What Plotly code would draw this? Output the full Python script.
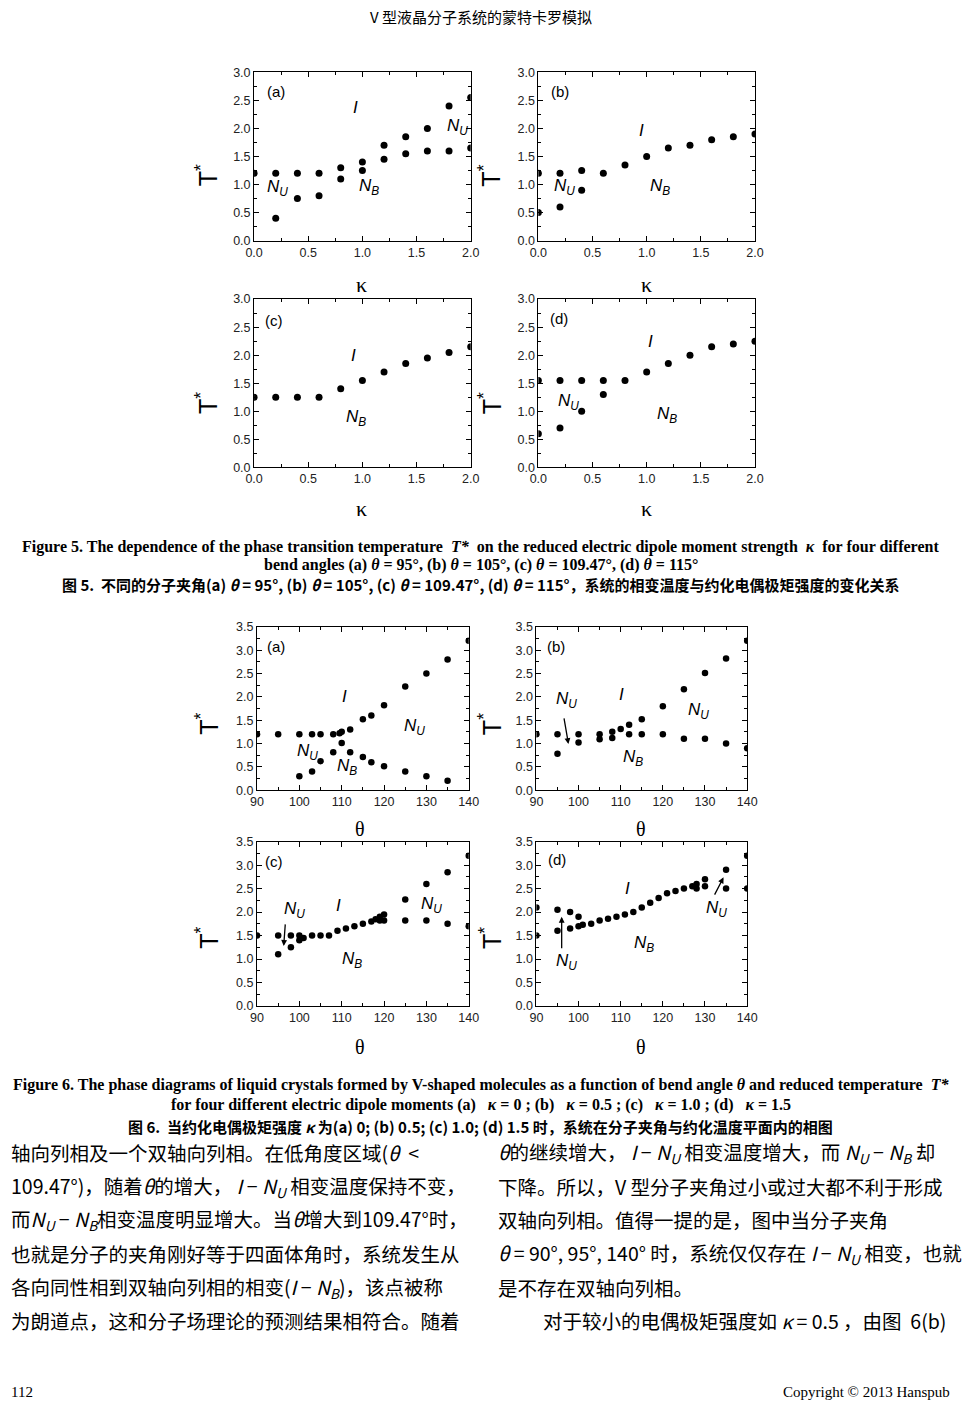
import plotly.graph_objects as go

# ---------------- data: Figure 5 (T* vs kappa) ----------------
kappa = [0.0, 0.2, 0.4, 0.6, 0.8, 1.0, 1.2, 1.4, 1.6, 1.8, 2.0]
f5a_upper = [1.2, 1.2, 1.2, 1.2, 1.3, 1.4, 1.7, 1.85, 2.0, 2.4, 2.55]
f5a_lower_k = [0.2, 0.4, 0.6, 0.8, 1.0, 1.2, 1.4, 1.6, 1.8, 2.0]
f5a_lower = [0.4, 0.75, 0.8, 1.1, 1.25, 1.45, 1.55, 1.6, 1.6, 1.65]
f5b_upper = [1.2, 1.2, 1.25, 1.2, 1.35, 1.5, 1.65, 1.7, 1.8, 1.85, 1.9]
f5b_lower_k = [0.0, 0.2, 0.4]
f5b_lower = [0.5, 0.6, 0.9]
f5c_upper = [1.25, 1.25, 1.25, 1.25, 1.4, 1.55, 1.7, 1.85, 1.95, 2.05, 2.15]
f5d_upper = [1.55, 1.55, 1.55, 1.55, 1.55, 1.7, 1.85, 2.0, 2.15, 2.2, 2.25]
f5d_lower_k = [0.0, 0.2, 0.4, 0.6]
f5d_lower = [0.6, 0.7, 1.0, 1.3]

# ---------------- data: Figure 6 (T* vs theta) ----------------
f6a_up_t = [90, 95, 100, 103, 105, 108, 109.5, 110, 112, 115, 117, 120, 125, 130, 135, 140]
f6a_up_T = [1.2, 1.2, 1.2, 1.2, 1.2, 1.2, 1.22, 1.25, 1.3, 1.52, 1.6, 1.82, 2.22, 2.5, 2.8, 3.2]
f6a_lo_t = [100, 103, 105, 108, 110, 112, 115, 117, 120, 125, 130, 135]
f6a_lo_T = [0.3, 0.4, 0.62, 0.81, 1.01, 0.81, 0.71, 0.6, 0.51, 0.4, 0.3, 0.2]

f6b_up_t = [90, 95, 100, 105, 108, 110, 112, 115, 120, 125, 130, 135, 140]
f6b_up_T = [1.2, 1.2, 1.2, 1.2, 1.25, 1.31, 1.4, 1.52, 1.8, 2.16, 2.51, 2.82, 3.2]
f6b_lo_t = [95, 100, 105, 108, 112, 115, 120, 125, 130, 135, 140]
f6b_lo_T = [0.78, 1.02, 1.09, 1.12, 1.2, 1.2, 1.2, 1.1, 1.1, 1.0, 0.9]

f6c_up_t = [90, 95, 98, 100, 101, 103, 105, 107, 109, 111, 113, 115, 117, 118, 119, 120, 125, 130, 135, 140]
f6c_up_T = [1.5, 1.5, 1.5, 1.5, 1.45, 1.5, 1.5, 1.5, 1.6, 1.65, 1.7, 1.75, 1.8, 1.85, 1.9, 1.95, 2.27, 2.6, 2.85, 3.2]
f6c_lo_t = [95, 98, 100, 119, 120, 125, 130, 135, 140]
f6c_lo_T = [1.1, 1.25, 1.4, 1.82, 1.82, 1.82, 1.82, 1.75, 1.7]

f6d_up_t = [90, 95, 98, 100, 128, 130, 135, 140]
f6d_up_T = [2.1, 2.05, 2.0, 1.9, 2.6, 2.7, 2.9, 3.2]
f6d_lo_t = [90, 95, 98, 100, 101, 103, 105, 107, 109, 111, 113, 115, 117, 119, 121, 123, 125, 127, 128, 130, 135, 140]
f6d_lo_T = [1.5, 1.6, 1.65, 1.7, 1.73, 1.75, 1.82, 1.86, 1.9, 1.95, 2.0, 2.1, 2.2, 2.3, 2.4, 2.45, 2.5, 2.55, 2.5, 2.55, 2.5, 2.5]

W, H = 963, 1414


def px_x(p):
    return p / W


def px_y(p):
    return 1 - p / H


fig = go.Figure()

series = [
    (1, kappa, f5a_upper), (1, f5a_lower_k, f5a_lower),
    (2, kappa, f5b_upper), (2, f5b_lower_k, f5b_lower),
    (3, kappa, f5c_upper),
    (4, kappa, f5d_upper), (4, f5d_lower_k, f5d_lower),
    (5, f6a_up_t, f6a_up_T), (5, f6a_lo_t, f6a_lo_T),
    (6, f6b_up_t, f6b_up_T), (6, f6b_lo_t, f6b_lo_T),
    (7, f6c_up_t, f6c_up_T), (7, f6c_lo_t, f6c_lo_T),
    (8, f6d_up_t, f6d_up_T), (8, f6d_lo_t, f6d_lo_T),
]
for n, xs, ys in series:
    sfx = "" if n == 1 else str(n)
    fig.add_trace(go.Scatter(
        x=xs, y=ys, mode="markers", xaxis="x" + sfx, yaxis="y" + sfx,
        marker=dict(color="black", size=7 if n <= 4 else 6.5),
        showlegend=False, hoverinfo="skip"))

# axis domains in pixels (left, right, top, bottom)
boxes = {
    1: (250, 471, 66, 236), 2: (540, 761, 66, 236),
    3: (250, 471, 295, 465), 4: (540, 761, 295, 465),
    5: (253, 469, 626, 791), 6: (538, 753, 626, 791),
    7: (253, 469, 843, 1009), 8: (538, 753, 843, 1009),
}
tickfont = dict(family="Liberation Sans, Arial", size=12.5, color="#222")
layout = {}
for n, (l, r, t, b) in boxes.items():
    sfx = "" if n == 1 else str(n)
    if n <= 4:
        xr, xd, xm = [0, 2], 0.5, 0.25
        yr, yd, ym = [0, 3], 0.5, 0.25
        xfmt = ".1f"
    else:
        xr, xd, xm = [90, 140], 10, 5
        yr, yd, ym = [0, 3.5], 0.5, 0.25
        xfmt = "d"
    common = dict(showline=True, linecolor="black", linewidth=1, mirror="allticks",
                  ticks="inside", ticklen=5, tickcolor="black", showgrid=False,
                  zeroline=False, tickfont=tickfont,
                  minor=dict(ticks="inside", ticklen=3, tickcolor="black", showgrid=False))
    layout["xaxis" + sfx] = dict(common, domain=[px_x(l), px_x(r)], range=xr, dtick=xd,
                                 tick0=xr[0], tickformat=xfmt, anchor="y" + sfx,
                                 minor=dict(common["minor"], dtick=xm))
    layout["yaxis" + sfx] = dict(common, domain=[px_y(b), px_y(t)], range=yr, dtick=yd,
                                 tick0=0, tickformat=".1f", anchor="x" + sfx,
                                 minor=dict(common["minor"], dtick=ym))
fig.update_layout(**layout)

ann = []


def txt(n, x, y, s, size=17, xanchor="center"):
    sfx = "" if n == 1 else str(n)
    ann.append(dict(xref="x" + sfx, yref="y" + sfx, x=x, y=y, text=s, showarrow=False,
                    xanchor=xanchor, yanchor="middle",
                    font=dict(family="Liberation Sans, Arial", size=size, color="black")))


NU = "<i>N<sub>U</sub></i>"
NB = "<i>N<sub>B</sub></i>"
I_ = "<i>I</i>"

# Fig 5 labels
txt(1, 0.2, 2.65, "(a)", 15); txt(1, 0.94, 2.38, I_); txt(1, 0.1, 0.93, NU, xanchor="left")
txt(1, 0.95, 0.95, NB, xanchor="left"); txt(1, 1.76, 2.02, NU, xanchor="left")
txt(2, 0.2, 2.65, "(b)", 15); txt(2, 0.95, 1.97, I_); txt(2, 0.13, 0.95, NU, xanchor="left")
txt(2, 1.01, 0.95, NB, xanchor="left")
txt(3, 0.18, 2.62, "(c)", 15); txt(3, 0.92, 2.0, I_); txt(3, 0.83, 0.88, NB, xanchor="left")
txt(4, 0.19, 2.65, "(d)", 15); txt(4, 1.04, 2.24, I_); txt(4, 0.16, 1.17, NU, xanchor="left")
txt(4, 1.08, 0.94, NB, xanchor="left")
# Fig 6 labels
txt(5, 94.4, 3.08, "(a)", 15); txt(5, 110.6, 2.0, I_); txt(5, 98.9, 0.82, NU, xanchor="left")
txt(5, 108.5, 0.5, NB, xanchor="left"); txt(5, 124.3, 1.35, NU, xanchor="left")
txt(6, 94.7, 3.08, "(b)", 15); txt(6, 110.2, 2.05, I_); txt(6, 94.2, 1.94, NU, xanchor="left")
txt(6, 125.5, 1.7, NU, xanchor="left"); txt(6, 110.0, 0.68, NB, xanchor="left")
txt(7, 94.0, 3.08, "(c)", 15); txt(7, 109.3, 2.15, I_); txt(7, 95.8, 2.04, NU, xanchor="left")
txt(7, 128.2, 2.15, NU, xanchor="left"); txt(7, 109.7, 0.97, NB, xanchor="left")
txt(8, 94.9, 3.11, "(d)", 15); txt(8, 111.7, 2.51, I_); txt(8, 129.8, 2.06, NU, xanchor="left")
txt(8, 94.2, 0.94, NU, xanchor="left"); txt(8, 112.8, 1.32, NB, xanchor="left")


def arrow(n, x0, y0, x1, y1):
    sfx = "" if n == 1 else str(n)
    ann.append(dict(xref="x" + sfx, yref="y" + sfx, axref="x" + sfx, ayref="y" + sfx,
                    x=x1, y=y1, ax=x0, ay=y0, text="", showarrow=True, arrowhead=2,
                    arrowsize=0.9, arrowwidth=1.3, arrowcolor="black"))


arrow(6, 96.5, 1.57, 97.6, 0.99)
arrow(7, 96.7, 1.77, 96.3, 1.28)
arrow(8, 96.0, 1.2, 96.0, 1.9)
arrow(8, 132.1, 2.34, 134.4, 2.74)


def paper(xp, yp, s, size, family, xanchor="center", angle=0, color="black"):
    ann.append(dict(xref="paper", yref="paper", x=px_x(xp), y=px_y(yp), text=s,
                    showarrow=False, xanchor=xanchor, yanchor="middle", textangle=angle,
                    font=dict(family=family, size=size, color=color)))


serif = "Liberation Serif, Times New Roman"
cjk = "Noto Sans CJK SC"
# axis titles
for xc in (360, 650):
    paper(xc, 280, "κ", 22, serif)
    paper(xc, 507, "κ", 22, serif)
for xc in (358, 645):
    paper(xc, 830, "θ", 20, serif)
    paper(xc, 1050, "θ", 20, serif)
for xc in (202, 491):
    for yc in (170, 400, 724, 940):
        paper(xc, yc, "T<sup>*</sup>", 25, "Liberation Sans, Arial", angle=-90)

# header
paper(481, 10, "V 型液晶分子系统的蒙特卡罗模拟", 15, cjk + ", " + serif)

# captions
paper(481, 545, "<b>Figure 5. The dependence of the phase transition temperature  <i>T*</i>  on the reduced electric dipole moment strength  <i>κ</i>  for four different</b>", 16, serif)
paper(481, 564, "<b>bend angles (a) <i>θ</i> = 95°, (b) <i>θ</i> = 105°, (c) <i>θ</i> = 109.47°, (d) <i>θ</i> = 115°</b>", 16, serif)
paper(481, 583, "<b>图 5.  不同的分子夹角(a) <i>θ</i> = 95°, (b) <i>θ</i> = 105°, (c) <i>θ</i> = 109.47°, (d) <i>θ</i> = 115°，系统的相变温度与约化电偶极矩强度的变化关系</b>", 15, cjk)
paper(481, 1089, "<b>Figure 6. The phase diagrams of liquid crystals formed by V-shaped molecules as a function of bend angle <i>θ</i> and reduced temperature  <i>T*</i></b>", 16, serif)
paper(481, 1109, "<b>for four different electric dipole moments (a)   <i>κ</i> = 0 ; (b)   <i>κ</i> = 0.5 ; (c)   <i>κ</i> = 1.0 ; (d)   <i>κ</i> = 1.5</b>", 16, serif)
paper(481, 1131, "<b>图 6.  当约化电偶极矩强度 <i>κ</i> 为(a) 0; (b) 0.5; (c) 1.0; (d) 1.5 时，系统在分子夹角与约化温度平面内的相图</b>", 15, cjk)

# body text
body_font = cjk + ", " + serif
left_lines = [
    "轴向列相及一个双轴向列相。在低角度区域(<i>θ</i>  <",
    "109.47°)，随着<i>θ</i>的增大， <i>I</i> − <i>N<sub>U</sub></i> 相变温度保持不变，",
    "而<i>N<sub>U</sub></i> − <i>N<sub>B</sub></i>相变温度明显增大。当<i>θ</i>增大到109.47°时，",
    "也就是分子的夹角刚好等于四面体角时，系统发生从",
    "各向同性相到双轴向列相的相变(<i>I</i> − <i>N<sub>B</sub></i>)，该点被称",
    "为朗道点，这和分子场理论的预测结果相符合。随着",
]
right_lines = [
    "<i>θ</i>的继续增大， <i>I</i> − <i>N<sub>U</sub></i> 相变温度增大，而 <i>N<sub>U</sub></i> − <i>N<sub>B</sub></i> 却",
    "下降。所以，V 型分子夹角过小或过大都不利于形成",
    "双轴向列相。值得一提的是，图中当分子夹角",
    "<i>θ</i> = 90°, 95°, 140° 时，系统仅仅存在 <i>I</i> − <i>N<sub>U</sub></i> 相变，也就",
    "是不存在双轴向列相。",
    "对于较小的电偶极矩强度如 <i>κ</i> = 0.5 ，由图  6(b)",
]
line_y = [1157, 1191, 1225, 1259, 1293, 1327]
for s, yv in zip(left_lines, line_y):
    paper(0, yv, s, 19.5, body_font, xanchor="left")
for i, (s, yv) in enumerate(zip(right_lines, line_y)):
    paper(543 if i == 5 else 497, yv, s, 19.5, body_font, xanchor="left")

# footer
paper(0, 1399, "112", 15, serif, xanchor="left")
paper(962, 1399, "Copyright © 2013 Hanspub", 15, serif, xanchor="right")

fig.update_layout(annotations=ann, width=W, height=H,
                  margin=dict(l=0, r=0, t=0, b=0),
                  paper_bgcolor="white", plot_bgcolor="white")
fig.write_html("out.html", config={"displayModeBar": False},
               post_script="document.body.style.margin='0';document.body.style.overflow='hidden';")
